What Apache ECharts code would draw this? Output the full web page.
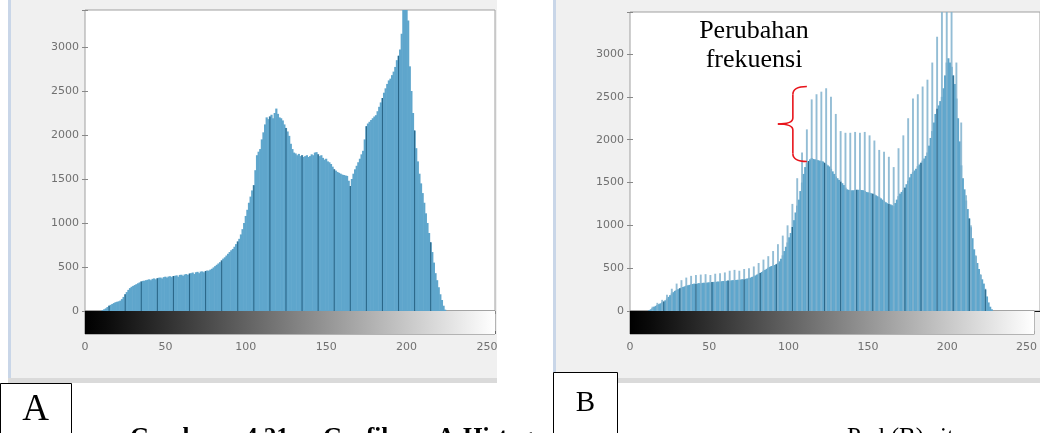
<!DOCTYPE html>
<html><head><meta charset="utf-8">
<script src="https://cdn.jsdelivr.net/npm/echarts@6/dist/echarts.min.js"></script>
<style>html,body{margin:0;padding:0;background:#fff}#c{width:1040px;height:433px}</style>
</head><body><div id="c"></div>
<script>
// ---------------- data ----------------
const yTicks = [0, 500, 1000, 1500, 2000, 2500, 3000];
const xTicks = [0, 50, 100, 150, 200, 250];

// Panel A: histogram counts for gray levels 0..255
const histA = [
0,0,0,0,0,0,0,0,0,0,0,
10,20,30,45,60,70,80,90,100,105,
110,118,135,160,190,215,240,260,275,285,
295,305,315,325,335,342,345,350,355,360,
350,365,370,360,372,378,380,370,385,390,
380,392,395,385,398,400,405,390,410,412,
400,415,420,410,425,430,437,420,440,445,
430,448,450,440,455,460,458,470,480,495,
510,525,540,555,575,595,610,630,650,670,
690,705,730,760,790,820,870,930,1000,1080,
1150,1230,1300,1370,1430,1600,1770,1810,1840,1950,
2030,2120,2200,2180,2210,2230,2190,2250,2300,2240,
2200,2190,2165,2120,2080,2040,1990,1900,1840,1800,
1790,1770,1785,1760,1770,1750,1760,1770,1750,1760,
1780,1770,1800,1805,1780,1760,1770,1740,1720,1730,
1700,1690,1670,1640,1610,1595,1580,1570,1560,1550,
1545,1540,1535,1480,1420,1500,1560,1610,1650,1690,
1730,1780,1820,1950,2100,2130,2150,2170,2190,2210,
2225,2270,2320,2370,2420,2480,2530,2580,2620,2640,
2680,2720,2773,2850,2900,2970,3150,3450,3600,3600,
3300,2780,2500,2250,2050,1850,1700,1560,1450,1340,
1230,1110,1000,886,780,670,550,430,350,270,
190,125,60,15,0,0,0,0,0,0,
0,0,0,0,0,0,0,0,0,0,
0,0,0,0,0,0,0,0,0,0,
0,0,0,0,0
];

// Panel B: base histogram counts for gray levels 0..255
const baseB = [
0,0,0,0,0,0,0,0,0,0,0,0,
10,20,35,50,60,70,80,90,100,
110,125,145,165,185,205,220,235,245,255,
265,272,280,288,295,300,305,310,315,320,
315,322,325,320,328,330,325,332,335,330,
338,340,335,342,345,340,348,350,345,352,
355,350,358,360,355,362,365,360,368,372,
368,375,380,385,390,398,405,415,425,435,
445,455,468,480,492,505,515,525,530,537,
545,560,580,610,650,700,750,800,860,910,
980,1060,1150,1230,1300,1400,1500,1600,1680,1726,
1750,1770,1784,1775,1770,1765,1760,1755,1750,1745,
1730,1715,1700,1687,1660,1630,1600,1570,1550,1530,
1510,1492,1470,1440,1420,1414,1410,1408,1410,1412,
1414,1415,1414,1412,1410,1400,1390,1385,1380,1375,
1368,1360,1350,1340,1330,1315,1300,1285,1270,1258,
1250,1245,1235,1225,1260,1300,1340,1370,1390,1410,
1440,1480,1520,1560,1600,1620,1640,1660,1690,1710,
1730,1755,1780,1810,1850,1930,2020,2100,2200,2300,
2360,2400,2450,2500,2600,2750,2900,2950,2900,2850,
2750,2650,2480,2250,1980,1700,1550,1420,1290,1190,
1080,977,850,720,640,560,490,420,370,320,
250,170,100,50,20,0,0,0,0,0,
0,0,0,0,0,0,0,0,0,0,
0,0,0,0,0,0,0,0,0,0,
0,0,0,0,0
];

// Panel B: raised (changed-frequency) bins  [gray level, count]
const spikeB = [
[14,50],[17,95],[20,130],[23,190],[26,260],[29,320],[32,360],[35,390],[38,410],[41,420],
[44,425],[47,430],[50,420],[53,435],[56,440],[59,450],[62,470],[65,480],[68,470],[71,490],
[74,500],[77,520],[80,560],[83,600],[86,640],[89,700],[92,780],[95,880],[98,1000],[101,1250],
[104,1550],[107,1850],[110,2120],[113,2470],[116,2530],[119,2560],[122,2600],[125,2500],[128,2300],[131,2100],
[134,2080],[137,2080],[140,2090],[143,2080],[146,2090],[149,2050],[152,1990],[155,1880],[158,1860],[161,1800],
[164,1680],[167,1900],[170,2050],[173,2250],[176,2480],[179,2530],[182,2620],[185,2700],[188,2900],[191,3200],
[194,3600],[197,3800],[200,3700],[203,2900],[206,2200],[209,1350],[212,1000],[215,650],[218,430],[221,260]
];

const annotationText = 'Perubahan\nfrekuensi';
const braceRange = [110, 1745, 2620]; // gray level, low count, high count
const captionWords = ['Gambar', '4.21', 'Grafik', 'A:', 'Histogram'];
const captionRight = 'Pad (B) sit';

// ---------------- chart ----------------
const LIGHT = '#5fa6cc', DARK = '#2a6688', SPIKE = 'rgba(128,178,206,0.85)';
const labelStyle = {fontSize: 11, color: '#707070', fontFamily: '"DejaVu Sans", sans-serif'};
const chart = echarts.init(document.getElementById('c'), null, {renderer: 'canvas'});

function xAxes(grid) {
  const base = {type: 'value', min: 0, max: 255, splitLine: {show: false}};
  return [
    Object.assign({}, base, {gridIndex: grid, position: 'bottom',
      axisLine: {show: true, onZero: false, lineStyle: {color: '#111', width: 1}},
      axisTick: {show: false}, axisLabel: {show: false}}),
    Object.assign({}, base, {gridIndex: grid, interval: 50, position: 'top', axisLine: {show: false},
      axisTick: {show: true, inside: true, length: 3, lineStyle: {color: '#888'}}, axisLabel: {show: false}}),
    Object.assign({}, base, {gridIndex: grid + 1, interval: 50, position: 'bottom', axisLine: {show: false},
      axisTick: {show: true, inside: true, length: 3, lineStyle: {color: '#666'}},
      axisLabel: Object.assign({margin: 8, formatter: v => (xTicks.indexOf(v) >= 0 ? String(v) : '')}, labelStyle)}),
    Object.assign({}, base, {gridIndex: grid, show: false})
  ];
}
function yAxes(grid, max) {
  return [
    {gridIndex: grid, type: 'value', min: 0, max: max, interval: 500, position: 'left',
     axisLine: {show: false}, axisTick: {show: true, inside: true, length: 3, lineStyle: {color: '#888'}},
     axisLabel: Object.assign({margin: 6, formatter: v => (yTicks.indexOf(v) >= 0 ? String(v) : '')}, labelStyle),
     splitLine: {show: false}},
    {gridIndex: grid, type: 'value', min: 0, max: max, interval: 500, position: 'right',
     axisLine: {show: false}, axisTick: {show: true, inside: true, length: 3, lineStyle: {color: '#888'}},
     axisLabel: {show: false}, splitLine: {show: false}},
    {gridIndex: grid + 1, type: 'value', min: 0, max: 1, show: false}
  ];
}
function colorbar(xi, yi) {
  return {
    type: 'custom', xAxisIndex: xi, yAxisIndex: yi, data: [[0, 255]], silent: true,
    renderItem: function (params, api) {
      const p0 = api.coord([api.value(0), 1]);
      const p1 = api.coord([api.value(1), 0]);
      return {type: 'rect', shape: {x: p0[0], y: p0[1], width: p1[0] - p0[0], height: p1[1] - p0[1]},
        style: {fill: {type: 'linear', x: 0, y: 0, x2: 1, y2: 0, colorStops: [
          {offset: 0, color: '#000'}, {offset: 0.05, color: '#0a0a0a'}, {offset: 1, color: '#ffffff'}]}}};
    }
  };
}
const pairs = arr => arr.map((v, i) => [i, v]);
const capFont = 'bold 25px "Liberation Serif", serif';

const option = {
  animation: false,
  backgroundColor: '#ffffff',
  grid: [
    {left: 85, top: 10, width: 410, height: 301, show: true, backgroundColor: '#fff', borderColor: '#a0a0a0', borderWidth: 1},
    {left: 85, top: 311, width: 410, height: 23, show: true, backgroundColor: '#fff', borderColor: '#777', borderWidth: 1},
    {left: 630, top: 12, width: 412, height: 299, show: true, backgroundColor: '#fff', borderColor: '#a0a0a0', borderWidth: 1},
    {left: 630, top: 311, width: 412, height: 23, show: true, backgroundColor: '#fff', borderColor: '#777', borderWidth: 1}
  ],
  xAxis: [].concat(xAxes(0), xAxes(2)),
  yAxis: [].concat(yAxes(0, 3420), yAxes(2, 3490)),
  series: [
    {type: 'bar', xAxisIndex: 0, yAxisIndex: 0, barWidth: 2.2, silent: true, data: pairs(histA), itemStyle: {color: LIGHT}},
    {type: 'bar', xAxisIndex: 3, yAxisIndex: 0, barWidth: 1.1, silent: true, z: 3,
     data: pairs(histA).filter(d => d[0] % 10 === 5), itemStyle: {color: DARK}},
    colorbar(2, 2),
    {type: 'bar', xAxisIndex: 4, yAxisIndex: 3, barWidth: 2.2, silent: true, data: pairs(baseB), itemStyle: {color: LIGHT}},
    {type: 'bar', xAxisIndex: 5, yAxisIndex: 3, barWidth: 1.9, silent: true, z: 3, data: spikeB, itemStyle: {color: SPIKE}},
    {type: 'bar', xAxisIndex: 7, yAxisIndex: 3, barWidth: 1.1, silent: true, z: 4,
     data: pairs(baseB).filter(d => d[0] % 10 === 1), itemStyle: {color: DARK}},
    colorbar(6, 5)
  ],
  graphic: [
    {type: 'rect', z: -10, shape: {x: 8, y: 0, width: 489, height: 383}, style: {fill: '#f0f0f0'}},
    {type: 'rect', z: -9, shape: {x: 8, y: 0, width: 3, height: 383}, style: {fill: '#c9d6e8'}},
    {type: 'rect', z: -9, shape: {x: 8, y: 378, width: 489, height: 5}, style: {fill: '#dadada'}},
    {type: 'rect', z: -10, shape: {x: 553, y: 0, width: 487, height: 383}, style: {fill: '#f0f0f0'}},
    {type: 'rect', z: -9, shape: {x: 553, y: 0, width: 3, height: 383}, style: {fill: '#c9d6e8'}},
    {type: 'rect', z: -9, shape: {x: 553, y: 378, width: 487, height: 5}, style: {fill: '#dadada'}},
    {type: 'rect', z: 50, shape: {x: 497, y: 0, width: 56, height: 372}, style: {fill: '#ffffff'}},
    {type: 'text', z: 60, x: 130, y: 426, style: {text: captionWords[0], font: capFont, fill: '#000', verticalAlign: 'top'}},
    {type: 'text', z: 60, x: 245, y: 426, style: {text: captionWords[1], font: capFont, fill: '#000', verticalAlign: 'top'}},
    {type: 'text', z: 60, x: 323, y: 426, style: {text: captionWords[2], font: capFont, fill: '#000', verticalAlign: 'top'}},
    {type: 'text', z: 60, x: 437, y: 426, style: {text: captionWords[3], font: capFont, fill: '#000', verticalAlign: 'top'}},
    {type: 'text', z: 60, x: 463, y: 426, style: {text: captionWords[4], font: capFont, fill: '#000', verticalAlign: 'top'}},
    {type: 'text', z: 60, x: 847, y: 426, style: {text: captionRight, font: '25px "Liberation Serif", serif', fill: '#000', verticalAlign: 'top'}},
    {type: 'rect', z: 70, shape: {x: 0.5, y: 383.5, width: 71, height: 60}, style: {fill: '#fff', stroke: '#000', lineWidth: 1}},
    {type: 'text', z: 71, x: 35.5, y: 410, style: {text: 'A', font: '37px "Liberation Serif", serif', fill: '#000', align: 'center', verticalAlign: 'middle'}},
    {type: 'rect', z: 70, shape: {x: 553.5, y: 372.5, width: 64, height: 70}, style: {fill: '#fff', stroke: '#000', lineWidth: 1}},
    {type: 'text', z: 71, x: 585.5, y: 403, style: {text: 'B', font: '29px "Liberation Serif", serif', fill: '#000', align: 'center', verticalAlign: 'middle'}},
    {type: 'text', z: 40, x: 754, y: 17, style: {text: annotationText, font: '26px "Liberation Serif", serif', lineHeight: 29, fill: '#000', align: 'center', verticalAlign: 'top'}}
  ]
};
chart.setOption(option);

// red curly brace, placed from data coordinates, then full re-render
const pt = chart.convertToPixel({xAxisIndex: 4, yAxisIndex: 3}, [braceRange[0], braceRange[2]]);
const pb = chart.convertToPixel({xAxisIndex: 4, yAxisIndex: 3}, [braceRange[0], braceRange[1]]);
const xr = pt[0], yt = pt[1], yb = pb[1], xm = xr - 14, xl = xr - 29, ym = (yt + yb) / 2;
const bs = {stroke: '#e8141b', lineWidth: 1.6, fill: null};
option.graphic.push(
  {type: 'bezierCurve', z: 45, shape: {x1: xr, y1: yt, cpx1: xm, cpy1: yt, x2: xm, y2: yt + 8}, style: bs},
  {type: 'line', z: 45, shape: {x1: xm, y1: yt + 8, x2: xm, y2: ym - 6}, style: bs},
  {type: 'bezierCurve', z: 45, shape: {x1: xm, y1: ym - 6, cpx1: xm, cpy1: ym, x2: xl, y2: ym}, style: bs},
  {type: 'bezierCurve', z: 45, shape: {x1: xl, y1: ym, cpx1: xm, cpy1: ym, x2: xm, y2: ym + 6}, style: bs},
  {type: 'line', z: 45, shape: {x1: xm, y1: ym + 6, x2: xm, y2: yb - 8}, style: bs},
  {type: 'bezierCurve', z: 45, shape: {x1: xm, y1: yb - 8, cpx1: xm, cpy1: yb, x2: xr, y2: yb}, style: bs}
);
chart.setOption(option, true);
</script></body></html>
